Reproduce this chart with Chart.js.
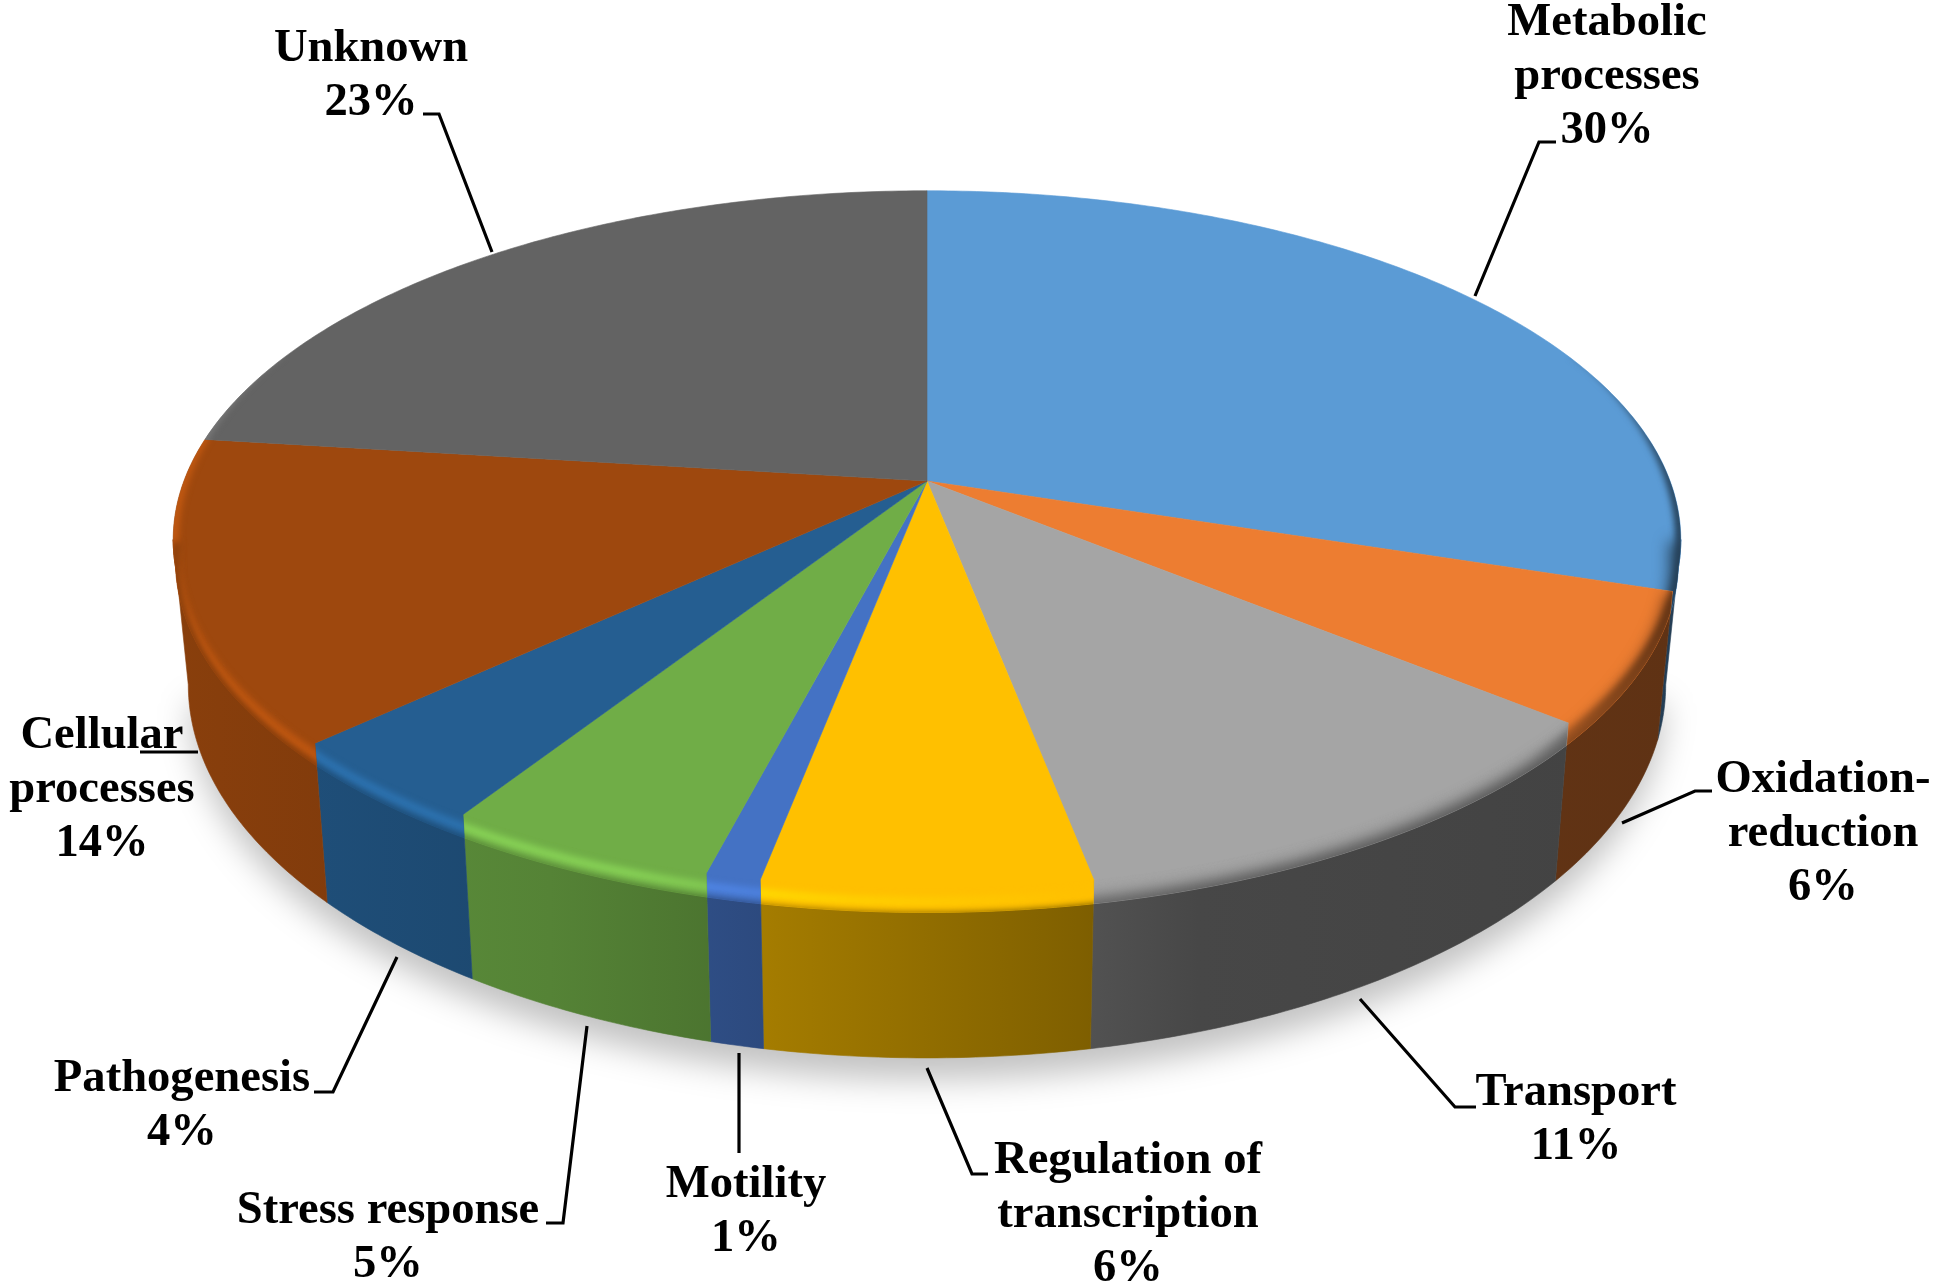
<!DOCTYPE html>
<html lang="en">
<head>
  <meta charset="UTF-8">
  <title>Functional categories</title>
  <script src="https://cdn.jsdelivr.net/npm/chart.js"></script>
  <style>
    html, body { margin: 0; padding: 0; background: #fff; }
    canvas { display: block; }
  </style>
</head>
<body>
  <canvas id="pie" width="1933" height="1282"></canvas>

  <script>
    const categories = ['Metabolic processes', 'Oxidation-reduction', 'Transport', 'Regulation of transcription',
      'Motility', 'Stress response', 'Pathogenesis', 'Cellular processes', 'Unknown'];
    const shares = [30, 6, 11, 6, 1, 5, 4, 14, 23];
    const sliceColors = ['#5B9BD5', '#ED7D31', '#A5A5A5', '#FFC000', '#4472C4', '#70AD47', '#255E91', '#9E480E', '#636363'];
    const labelLines = [['Metabolic', 'processes'], ['Oxidation-', 'reduction'], ['Transport'], ['Regulation of', 'transcription'],
      ['Motility'], ['Stress response'], ['Pathogenesis'], ['Cellular', 'processes'], ['Unknown']];

    // label placement: centre x, first baseline, then the leader line
    const labelX = [1607, 1823, 1576, 1128, 746, 388, 182, 102, 371];
    const labelY = [35, 792, 1105, 1173, 1197, 1223, 1091, 748, 61];
    const leaders = [
      [[1475, 296], [1539, 142], [1556, 142]],
      [[1622, 823], [1695, 791], [1712, 791]],
      [[1360, 999], [1455, 1107], [1476, 1107]],
      [[927, 1068], [972, 1174], [988, 1174]],
      [[739, 1053], [739, 1153]],
      [[587, 1026], [563, 1223], [546, 1223]],
      [[397, 957], [333, 1092], [314, 1092]],
      [[198, 752], [140, 752]],
      [[492, 252], [439, 114], [423, 114]]
    ];

    // tilt of the disc
    const perspective = 0.168;
    const stretch = 2.192;
    const bevel = 20;
    const depth = 141;
    const floorShrink = 0.02;
    const sideShade = [[0, .87], [.25, .76], [.4, .64], [.6, .5], [.68, .43], [1, .4]];
    const rimShade = [[0, 1.22], [.3, 1.2], [.45, 1.08], [.6, 1], [.9, 1], [.97, .62], [1, .4]];

    function shade(hex, f) {
      const n = parseInt(hex.slice(1), 16);
      const c = [n >> 16, (n >> 8) & 255, n & 255].map(v => Math.min(255, Math.round(v * f)));
      return `rgb(${c[0]},${c[1]},${c[2]})`;
    }

    function project(arc, a, drop, grow) {
      const u = Math.cos(a), v = Math.sin(a), w = 1 - perspective * v;
      const r = arc.outerRadius * (grow || 1);
      const narrow = 1 - floorShrink * (drop || 0) / depth;
      return { x: arc.x + r * stretch * narrow * u / w, y: arc.y + (r * v + (drop || 0)) / w };
    }

    function traceEdge(path, arc, a0, a1, drop, move) {
      const n = Math.max(2, Math.ceil(Math.abs(a1 - a0) * 90));
      for (let i = 0; i <= n; i++) {
        const p = project(arc, a0 + (a1 - a0) * i / n, drop);
        if (i === 0 && move) path.moveTo(p.x, p.y);
        else path.lineTo(p.x, p.y);
      }
    }

    function wedgePath(arc) {
      const p = new Path2D();
      p.moveTo(arc.x, arc.y);
      traceEdge(p, arc, arc.startAngle, arc.endAngle, 0, false);
      p.closePath();
      return p;
    }

    function stripPath(arc, a0, a1, d0, d1) {
      const p = new Path2D();
      traceEdge(p, arc, a0, a1, d0, true);
      traceEdge(p, arc, a1, a0, d1, false);
      p.closePath();
      return p;
    }

    function xGradient(ctx, arc, color, stops) {
      const half = arc.outerRadius * stretch / Math.sqrt(1 - perspective * perspective);
      const g = ctx.createLinearGradient(arc.x - half, 0, arc.x + half, 0);
      stops.forEach(s => g.addColorStop(s[0], shade(color, s[1])));
      return g;
    }

    const discPlugin = {
      id: 'tiltedDisc',
      beforeDatasetDraw(chart, args) {
        const ctx = chart.ctx;
        const arcs = args.meta.data;
        const frontStart = Math.asin(perspective);
        const frontEnd = Math.PI - frontStart;

        // soft shadow on the floor
        const shadow = new Path2D();
        traceEdge(shadow, arcs[0], frontStart, frontEnd, depth + 18, true);
        shadow.closePath();
        ctx.save();
        ctx.filter = 'blur(16px)';
        ctx.fillStyle = 'rgba(0,0,0,0.24)';
        ctx.fill(shadow);
        ctx.restore();

        // side wall
        arcs.forEach((arc, i) => {
          const a0 = Math.max(arc.startAngle, frontStart), a1 = Math.min(arc.endAngle, frontEnd);
          if (a1 <= a0) return;
          ctx.fillStyle = xGradient(ctx, arc, sliceColors[i], sideShade);
          const p = stripPath(arc, a0, a1, 0, depth);
          ctx.fill(p);
          ctx.strokeStyle = ctx.fillStyle;
          ctx.lineWidth = 0.6;
          ctx.stroke(p);
        });

        // top face with its rounded rim
        arcs.forEach((arc, i) => {
          const color = sliceColors[i];
          const a0 = Math.max(arc.startAngle, frontStart), a1 = Math.min(arc.endAngle, frontEnd);
          const mid = Math.cos((arc.startAngle + arc.endAngle) / 2);
          const face = new Path2D();
          face.addPath(wedgePath(arc));
          if (a1 > a0) face.addPath(stripPath(arc, a0, a1, 0, bevel));
          ctx.fillStyle = color;
          ctx.strokeStyle = color;
          ctx.lineWidth = 0.6;
          ctx.fill(face);
          ctx.stroke(face);

          ctx.save();
          ctx.clip(face);
          ctx.filter = 'blur(3px)';
          // highlight band, thins out towards the back of the disc
          const rim = new Path2D();
          const b0 = Math.max(arc.startAngle, -0.35) - 0.06, b1 = Math.min(arc.endAngle, Math.PI + 0.35) + 0.06;
          const n = Math.ceil(Math.abs(b1 - b0) * 90);
          for (let j = 0; j <= n && b1 > b0; j++) {
            const a = b0 + (b1 - b0) * j / n;
            const t = Math.max(0, Math.min(1, (Math.sin(a) + 0.35) / (perspective + 0.35)));
            const q = project(arc, a, bevel * 0.55 * t, 1 + 0.012 * (1 - t));
            if (j === 0) rim.moveTo(q.x, q.y); else rim.lineTo(q.x, q.y);
          }
          ctx.strokeStyle = xGradient(ctx, arc, color, rimShade);
          ctx.lineWidth = 9;
          ctx.stroke(rim);
          // soft fall-off into the wall, wider on the shaded right half
          if (a1 > a0) {
            const edge = new Path2D();
            traceEdge(edge, arc, a0 - 0.06, a1 + 0.06, bevel + 3, true);
            ctx.filter = mid > 0.05 ? 'blur(8px)' : 'blur(3px)';
            ctx.strokeStyle = xGradient(ctx, arc, color, sideShade);
            ctx.lineWidth = mid > 0.05 ? 16 : 8;
            ctx.stroke(edge);
          }
          ctx.restore();
        });
        return false;
      },
      afterDraw(chart) {
        const ctx = chart.ctx;
        ctx.save();
        ctx.strokeStyle = '#000';
        ctx.lineWidth = 3.2;
        ctx.lineJoin = 'miter';
        leaders.forEach(line => {
          ctx.beginPath();
          line.forEach((pt, i) => i ? ctx.lineTo(pt[0], pt[1]) : ctx.moveTo(pt[0], pt[1]));
          ctx.stroke();
        });
        ctx.fillStyle = '#000';
        ctx.font = 'bold 46.6px "Liberation Serif"';
        ctx.textAlign = 'center';
        ctx.textBaseline = 'alphabetic';
        labelLines.forEach((lines, i) => {
          [...lines, shares[i] + '%'].forEach((text, j) => {
            ctx.fillText(text, labelX[i], labelY[i] + j * 54);
          });
        });
        ctx.restore();
      }
    };

    new Chart(document.getElementById('pie'), {
      type: 'pie',
      data: {
        labels: categories,
        datasets: [{ data: shares, backgroundColor: sliceColors, borderWidth: 0 }]
      },
      options: {
        responsive: false,
        animation: false,
        layout: { padding: { left: 0, right: 79, top: 142, bottom: 462 } },
        plugins: { legend: { display: false }, tooltip: { enabled: false } }
      },
      plugins: [discPlugin]
    });
  </script>
</body>
</html>
